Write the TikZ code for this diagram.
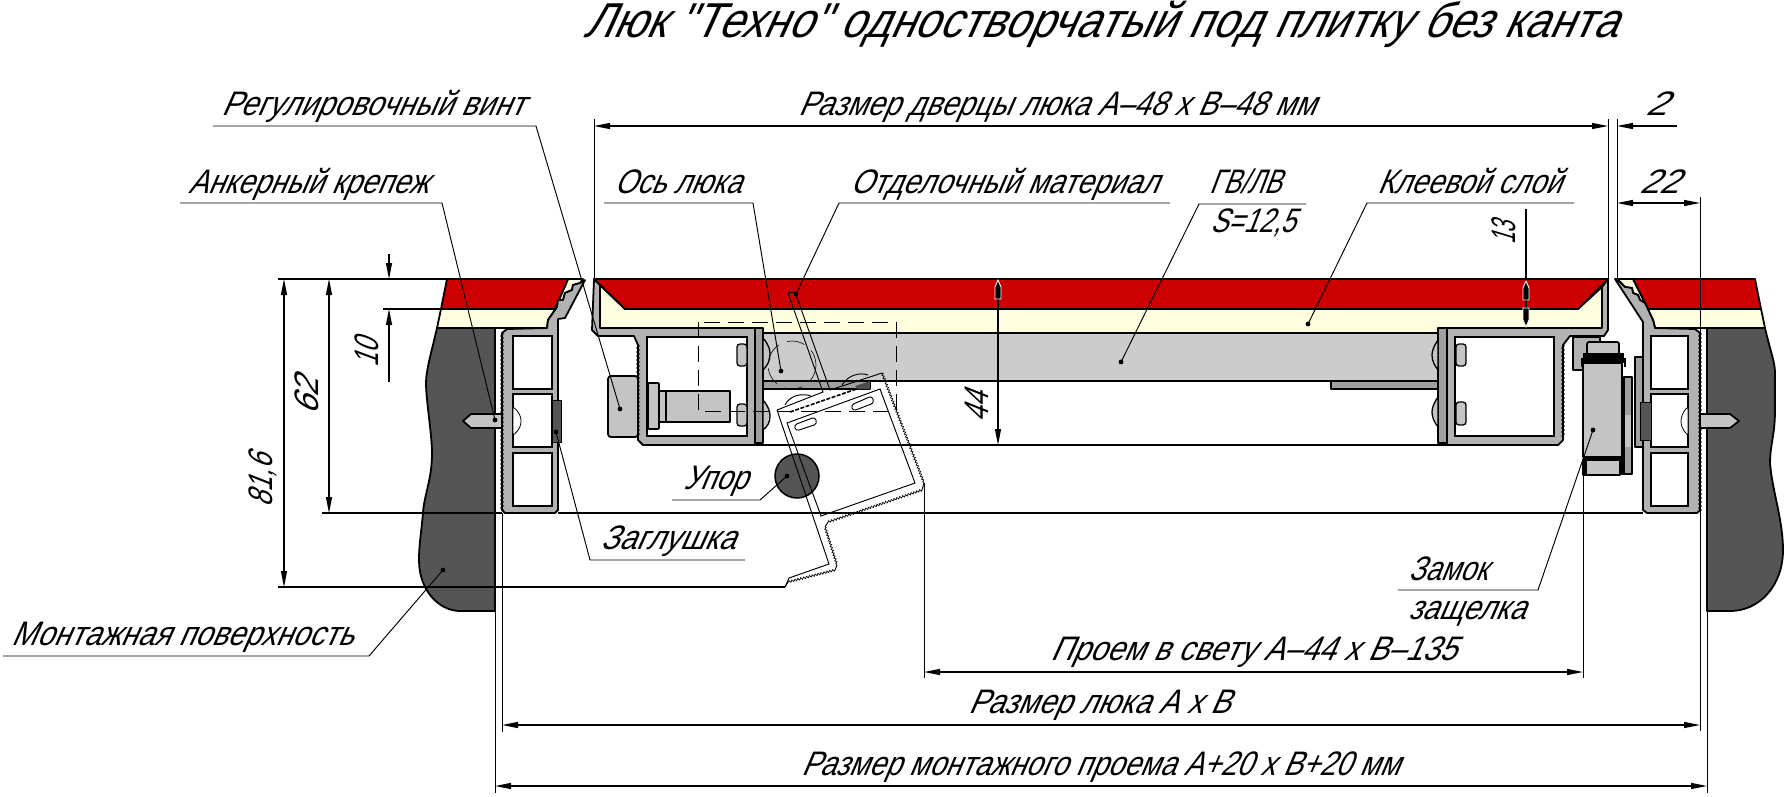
\documentclass[tikz,border=0pt]{standalone}
\usepackage{fontspec}
\usepackage{graphicx}
\usetikzlibrary{arrows.meta,decorations.pathmorphing}
\newfontfamily\gost[FakeSlant=0.5]{Liberation Sans}
\newsavebox\gb
\newcommand\fitx[2]{\sbox\gb{#2}\pgfmathsetmacro\gr{#1/\the\wd\gb}\scalebox{\gr}[1]{\usebox\gb}}
\definecolor{hatchred}{RGB}{204,0,0}
\definecolor{creamy}{RGB}{255,255,224}
\definecolor{wallgray}{RGB}{85,85,85}
\definecolor{profgray}{RGB}{178,178,178}
\definecolor{plategray}{RGB}{160,160,160}
\definecolor{panelgray}{RGB}{204,204,204}
\definecolor{lightgray2}{RGB}{196,196,196}
\tikzset{
  lab/.style={inner sep=0pt,outer sep=0pt,anchor=base west,font=\gost\fontsize{34}{34}\selectfont},
  rlab/.style={inner sep=0pt,outer sep=0pt,rotate=90,anchor=center,font=\gost\fontsize{34}{34}\selectfont},
  ttl/.style={inner sep=0pt,outer sep=0pt,anchor=base west,font=\gost\fontsize{49}{49}\selectfont},
  solid edge/.style={draw=black,line width=1.8pt,line join=round},
  thin line/.style={draw=black,line width=0.95pt},
  dimline/.style={draw=black,line width=1.2pt},
  heavy/.style={draw=black,line width=2pt},
  dim both/.style={dimline,{Triangle[length=16pt,width=6pt]}-{Triangle[length=16pt,width=6pt]}},
  dim end/.style={dimline,-{Triangle[length=16pt,width=6pt]}},
  leaderdot/.style={fill=black,draw=none},
  serr/.style={draw=black,line width=0.9pt,decorate,decoration={zigzag,segment length=4pt,amplitude=1.3pt}},
  fineserr/.style={draw=black,line width=0.7pt,decorate,decoration={zigzag,segment length=3pt,amplitude=1pt}},
  room/.style={fill=white,draw=black,line width=1.8pt},
  halo/.style={fill=black,draw=white,line width=0.9pt,line join=miter},
}
\begin{document}
\begin{tikzpicture}[x=1pt,y=-1pt]
\useasboundingbox (0,0) rectangle (1785,796);
\fill[white] (0,0) rectangle (1785,796);

% walls
\filldraw[fill=wallgray,solid edge] (494,328) -- (437,328) .. controls (432,350) and (426,370) .. (426,383)
  .. controls (426,400) and (432,435) .. (432,453) .. controls (432,480) and (424,495) .. (423,513)
  .. controls (421,535) and (419,545) .. (419,560) .. controls (419,590) and (438,610) .. (459,611) -- (495,611) -- (495,328) -- cycle;
\filldraw[fill=wallgray,solid edge] (1707,328) -- (1765,328) .. controls (1770,350) and (1775,362) .. (1775,373)
  -- (1775,410) .. controls (1775,435) and (1770,445) .. (1770,463) .. controls (1772,490) and (1783,520) .. (1783,550)
  .. controls (1783,585) and (1760,611) .. (1730,611) -- (1707,611) -- cycle;

% left frame finish
\filldraw[fill=creamy,solid edge] (441,309) -- (555,309) -- (568,279) -- (583,279) -- (580,283) -- (573,285) -- (572,290) -- (565,293) -- (563,300) -- (558,300) -- (557,307) -- (548,320) -- (547,328) -- (437,328) -- cycle;
\filldraw[fill=hatchred,solid edge] (447,279) -- (568,279) -- (555,309) -- (441,309) -- cycle;
% right frame finish
\filldraw[fill=creamy,solid edge] (1648,309) -- (1633,279) -- (1617,279) -- (1625,287) -- (1632,288) -- (1633,293) -- (1638,295) -- (1640,300) -- (1645,303) -- (1653,320) -- (1655,328) -- (1765,328) -- (1761,309) -- cycle;
\filldraw[fill=hatchred,solid edge] (1633,279) -- (1755,279) -- (1761,309) -- (1648,309) -- cycle;

% left frame profile
\filldraw[fill=profgray,solid edge] (585,280) -- (565,318) -- (558,319) -- (558,510) -- (555,513) -- (505,513) -- (502,510) -- (502,333) -- (507,329) -- (547,328) -- (548,320) -- (557,307) -- (558,300) -- (563,300) -- (565,293) -- (572,290) -- (573,285) -- (580,283) -- cycle;
\draw[serr] (502,333) -- (502,511);
\draw[room] (513,336) rectangle (552,389);
\draw[room] (513,394) rectangle (552,447);
\draw[room] (513,453) rectangle (552,506);
\filldraw[fill=white,draw=black,line width=0.8pt] (513,407) .. controls (520,412) and (521,418) .. (521,421) .. controls (521,425) and (520,430) .. (513,435) -- cycle;
\filldraw[fill=wallgray,draw=black,line width=1pt] (552,400) rectangle (561,442);
\filldraw[fill=lightgray2,solid edge] (463,421) -- (471,414) -- (502,414) -- (502,428) -- (471,428) -- cycle;

% right frame profile
\filldraw[fill=profgray,solid edge] (1615,279) -- (1643,322) -- (1643,510) -- (1647,513) -- (1697,513) -- (1700,510) -- (1700,333) -- (1695,329) -- (1655,328) -- (1653,320) -- (1645,303) -- (1640,300) -- (1638,295) -- (1633,293) -- (1632,288) -- (1625,287) -- (1617,279) -- cycle;
\draw[serr] (1700,333) -- (1700,511);
\draw[room] (1651,336) rectangle (1688,389);
\draw[room] (1651,394) rectangle (1688,447);
\draw[room] (1651,453) rectangle (1688,506);
\filldraw[fill=white,draw=black,line width=0.8pt] (1688,407) .. controls (1682,412) and (1681,418) .. (1681,421) .. controls (1681,425) and (1682,430) .. (1688,435) -- cycle;
\filldraw[fill=lightgray2,solid edge] (1700,414) -- (1730,414) -- (1739,421) -- (1730,428) -- (1700,428) -- cycle;

% door leaf
\filldraw[fill=creamy,solid edge] (600,285) -- (625,309) -- (1578,309) -- (1602,287) -- (1602,333) -- (600,333) -- cycle;
\filldraw[fill=hatchred,solid edge] (594,279) -- (1608,279) -- (1578,309) -- (625,309) -- cycle;
% panel
\filldraw[fill=panelgray,solid edge] (763,333) rectangle (1438,381);
% left door profile
\filldraw[fill=profgray,solid edge] (594,279) -- (600,285) -- (600,328) -- (755,328) -- (755,445) -- (643,445) -- (638,440) -- (638,345) -- (634,336) -- (598,336) -- (592,330) -- cycle;
\draw[room] (647,337) rectangle (747,436);
\draw[serr] (638,345) -- (638,438);
\filldraw[fill=plategray,solid edge] (755,328) rectangle (763,443);
\filldraw[fill=plategray,solid edge] (763,381) rectangle (870,389);
\filldraw[fill=lightgray2,draw=black,line width=1.3pt,rounded corners=3pt] (737,344) rectangle (747,366);
\filldraw[fill=lightgray2,draw=black,line width=1.3pt,rounded corners=3pt] (737,404) rectangle (747,426);
\filldraw[fill=lightgray2,draw=black,line width=1.3pt] (763,338) .. controls (769,345) and (770,350) .. (770,354) .. controls (770,360) and (768,365) .. (763,370) -- cycle;
\filldraw[fill=lightgray2,draw=black,line width=1.3pt] (763,400) .. controls (769,407) and (770,412) .. (770,416) .. controls (770,422) and (768,426) .. (763,430) -- cycle;
% adjusting screw
\filldraw[fill=lightgray2,solid edge,rounded corners=3pt] (608,376) rectangle (638,437);
\filldraw[fill=lightgray2,solid edge,rounded corners=1pt] (648,383) rectangle (659,429);
\filldraw[fill=lightgray2,solid edge] (659,391) rectangle (666,422);
\filldraw[fill=lightgray2,solid edge] (666,391) rectangle (730,422);

% right door profile
\filldraw[fill=profgray,solid edge] (1608,279) -- (1602,287) -- (1602,328) -- (1447,328) -- (1447,445) -- (1558,445) -- (1563,440) -- (1563,345) -- (1570,336) -- (1604,336) -- (1608,330) -- cycle;
\draw[room] (1455,337) rectangle (1554,436);
\draw[serr] (1563,345) -- (1563,438);
\filldraw[fill=plategray,solid edge] (1438,328) rectangle (1447,443);
\filldraw[fill=plategray,solid edge] (1331,381) rectangle (1438,389);
\filldraw[fill=lightgray2,draw=black,line width=1.3pt,rounded corners=3pt] (1456,344) rectangle (1466,366);
\filldraw[fill=lightgray2,draw=black,line width=1.3pt,rounded corners=3pt] (1456,402) rectangle (1466,425);
\filldraw[fill=lightgray2,draw=black,line width=1.3pt] (1438,340) .. controls (1433,347) and (1432,352) .. (1432,355) .. controls (1432,360) and (1434,365) .. (1438,370) -- cycle;
\filldraw[fill=lightgray2,draw=black,line width=1.3pt] (1438,397) .. controls (1433,404) and (1432,409) .. (1432,412) .. controls (1432,417) and (1434,422) .. (1438,427) -- cycle;

% latch
\filldraw[fill=profgray,solid edge] (1573,337) rectangle (1600,370);
\filldraw[fill=plategray,solid edge] (1624,377) rectangle (1632,474);
\fill[lightgray2] (1625,415) rectangle (1631,447);
\filldraw[fill=plategray,solid edge] (1635,357) rectangle (1643,447);
\filldraw[fill=wallgray,draw=black,line width=1pt] (1640,402) rectangle (1651,440);
\filldraw[fill=lightgray2,solid edge,rounded corners=2pt] (1587,342) rectangle (1619,356);
\fill[black] (1583,353) rectangle (1624,363);
\fill[black] (1624,358) rectangle (1626,367);
\fill[black] (1581,358) rectangle (1583,367);
\filldraw[fill=lightgray2,solid edge] (1583,363) rectangle (1622,457);
\filldraw[fill=lightgray2,solid edge] (1583,460) rectangle (1620,475);
\fill[black] (1583,456) rectangle (1624,460);
\fill[black] (1620,460) rectangle (1625,475);
\fill[black] (1583,460) rectangle (1587,475);

% long horizontal edges
\coordinate (doorL) at (753,445);
\coordinate (doorR) at (1447,445);
\draw[heavy] (doorL) -- (doorR);
\draw[heavy] (558,513) -- (1643,513);
\draw[dimline] (322,513) -- (502,513);
\draw[dimline] (278,587) -- (785,587);

% stop
\filldraw[fill=wallgray,draw=black,line width=1.5pt] (797,476) circle (22);

% hinge axis (dashed arcs)
\draw[draw=black,line width=0.6pt,dash pattern=on 18pt off 9pt] (792,365) circle (24);
% open door, thin
\draw[thin line] (788,293) -- (823,392) -- (777,410);
\draw[thin line] (795,292) -- (830,390) -- (882,373);
\draw[thin line] (788,293) -- (795,292);
\draw[thin line] (777,410) -- (829,564) -- (789,578) -- (785,587);
\draw[fineserr] (882,373) -- (924,483);
\draw[thin line] (924,483) -- (922,490);
\draw[fineserr] (922,490) -- (828,522);
\draw[thin line] (828,522) -- (825,527);
\draw[fineserr] (825,527) -- (837,565);
\draw[thin line] (837,565) -- (835,570);
\draw[fineserr] (835,570) -- (788,582);
\draw[thin line] (788,582) -- (785,587);
\draw[thin line] (787,423) -- (880,389) -- (915,483) -- (821,516) -- cycle;
\draw[black,line width=1.6pt,dash pattern=on 4pt off 1.5pt] (790,412) -- (868,385);
\draw[thin line,rounded corners=3pt] (794,425) -- (815,417) -- (817,424) -- (796,431) -- cycle;
\draw[thin line,rounded corners=3pt] (851,405) -- (872,396) -- (874,403) -- (853,411) -- cycle;
\draw[thin line] (785,405) .. controls (790,395) and (802,393) .. (811,396);
\draw[thin line] (842,385) .. controls (848,375) and (860,372) .. (868,375);
\fill[black!70] (855,386) -- (870,381) -- (870,389) -- (858,389) -- cycle;

% dashed detail frame
\draw[draw=black,line width=1pt,dash pattern=on 16pt off 8pt] (698,322) rectangle (896,411);

% dimension anchors
\coordinate (topY) at (278,279);
\coordinate (topEnd) at (447,279);
\coordinate (e1a) at (594,119); \coordinate (e1b) at (594,279);
\coordinate (e2a) at (1608,119); \coordinate (e2b) at (1608,279);
\coordinate (e3a) at (1617,119); \coordinate (e3b) at (1617,279);
\coordinate (e4a) at (1700,197); \coordinate (e4b) at (1700,731);
\coordinate (e5a) at (1707,611); \coordinate (e5b) at (1707,793);
\coordinate (e6a) at (495,611); \coordinate (e6b) at (495,793);
\coordinate (e7a) at (502,513); \coordinate (e7b) at (502,732);
\coordinate (e8a) at (924,483); \coordinate (e8b) at (924,678);
\coordinate (e9a) at (1583,475); \coordinate (e9b) at (1583,678);
\draw[dimline] (topY) -- (topEnd);
\draw[thin line] (e1a) -- (e1b);
\draw[thin line] (e2a) -- (e2b);
\draw[thin line] (e3a) -- (e3b);
\draw[thin line] (e4a) -- (e4b);
\draw[thin line] (e5a) -- (e5b);
\draw[thin line] (e6a) -- (e6b);
\draw[thin line] (e7a) -- (e7b);
\draw[thin line] (e8a) -- (e8b);
\draw[thin line] (e9a) -- (e9b);
\draw[dimline] (383,309) -- (441,309);

% horizontal dims
\coordinate (d1a) at (594,126); \coordinate (d1b) at (1608,126);
\draw[dim both] (d1a) -- (d1b);
\coordinate (d2a) at (1677,126); \coordinate (d2b) at (1617,126);
\draw[dim end] (d2a) -- (d2b);
\coordinate (d3a) at (1617,203); \coordinate (d3b) at (1700,203);
\draw[dim both] (d3a) -- (d3b);
\coordinate (d4a) at (502,725); \coordinate (d4b) at (1700,725);
\draw[dim both] (d4a) -- (d4b);
\coordinate (d5a) at (495,786); \coordinate (d5b) at (1707,786);
\draw[dim both] (d5a) -- (d5b);
\coordinate (d6a) at (924,672); \coordinate (d6b) at (1583,672);
\draw[dim both] (d6a) -- (d6b);

% vertical dims
\coordinate (v1a) at (284,279); \coordinate (v1b) at (284,587);
\draw[dim both] (v1a) -- (v1b);
\coordinate (v2a) at (329,279); \coordinate (v2b) at (329,513);
\draw[dim both] (v2a) -- (v2b);
\coordinate (v3a) at (389,254); \coordinate (v3b) at (389,279);
\draw[dim end] (v3a) -- (v3b);
\coordinate (v3c) at (389,382); \coordinate (v3d) at (389,309);
\draw[dim end] (v3c) -- (v3d);
\coordinate (v4a) at (998,281); \coordinate (v4b) at (998,445);
\draw[dimline,-{Triangle[length=16pt,width=6pt]}] (v4a) -- (v4b);
\filldraw[halo] (998,280) -- (1001,287) -- (1001,299) -- (995,299) -- (995,287) -- cycle;
\coordinate (v5a) at (1526,209); \coordinate (v5b) at (1526,328);
\draw[dimline] (v5a) -- (v5b);
\filldraw[halo] (1526,281) -- (1529,288) -- (1529,300) -- (1523,300) -- (1523,288) -- cycle;
\filldraw[halo] (1526,327) -- (1523,320) -- (1523,308) -- (1529,308) -- (1529,320) -- cycle;

% title and labels
\node[ttl] (title) at (583,37) {\fitx{1034}{Люк "Техно" одностворчатый под плитку без канта}};
\node[lab] (lRV) at (221,115) {\fitx{303}{Регулировочный винт}};
\node[lab] (lAK) at (188,193) {\fitx{240}{Анкерный крепеж}};
\node[lab] (lOL) at (614,193) {\fitx{127}{Ось люка}};
\node[lab] (lOM) at (850,193) {\fitx{308}{Отделочный материал}};
\node[lab] (lGV) at (1209,193) {\fitx{72}{ГВ/ЛВ}};
\node[lab] (lS) at (1210,232) {\fitx{85}{S=12,5}};
\node[lab] (lKS) at (1377,193) {\fitx{184}{Клеевой слой}};
\node[lab] (lDV) at (798,115) {\fitx{517}{Размер дверцы люка А–48 х В–48 мм}};
\node[lab] (l2) at (1645,115) {\fitx{21}{2}};
\node[lab] (l22) at (1639,193) {\fitx{39}{22}};
\node[lab] (lUP) at (683,489) {\fitx{64}{Упор}};
\node[lab] (lZG) at (600,549) {\fitx{135}{Заглушка}};
\node[lab] (lMP) at (11,645) {\fitx{342}{Монтажная поверхность}};
\node[lab] (lZM) at (1408,580) {\fitx{79}{Замок}};
\node[lab] (lZS) at (1408,619) {\fitx{117}{защелка}};
\node[lab] (lPS) at (1050,660) {\fitx{406}{Проем в свету А–44 х В–135}};
\node[lab] (lRL) at (968,713) {\fitx{262}{Размер люка А х В}};
\node[lab] (lRM) at (801,775) {\fitx{598}{Размер монтажного проема А+20 х В+20 мм}};
\node[rlab] (r816) at (263,481) {\fitx{52}{81,6}};
\node[rlab] (r62) at (307,397) {\fitx{37}{62}};
\node[rlab] (r10) at (367,353) {\fitx{28}{10}};
\node[rlab] (r44) at (977,407) {\fitx{30}{44}};
\node[rlab] (r13) at (1504,233) {\fitx{23}{13}};

% leaders
\coordinate (pRV1) at (213,126); \coordinate (pRV2) at (536,126); \coordinate (pRV3) at (620,409);
\draw[thin line] (pRV1) -- (pRV2) -- (pRV3);
\coordinate (pAK1) at (180,203); \coordinate (pAK2) at (442,203); \coordinate (pAK3) at (495,420);
\draw[thin line] (pAK1) -- (pAK2) -- (pAK3);
\coordinate (pOL1) at (604,203); \coordinate (pOL2) at (753,203); \coordinate (pOL3) at (781,371);
\draw[thin line] (pOL1) -- (pOL2) -- (pOL3);
\coordinate (pOM1) at (1170,203); \coordinate (pOM2) at (839,203); \coordinate (pOM3) at (796,294);
\draw[thin line] (pOM1) -- (pOM2) -- (pOM3);
\coordinate (pGV1) at (1306,204); \coordinate (pGV2) at (1199,204); \coordinate (pGV3) at (1121,362);
\draw[thin line] (pGV1) -- (pGV2) -- (pGV3);
\coordinate (pKS1) at (1574,203); \coordinate (pKS2) at (1367,203); \coordinate (pKS3) at (1308,324);
\draw[thin line] (pKS1) -- (pKS2) -- (pKS3);
\coordinate (pUP1) at (672,500); \coordinate (pUP2) at (760,500); \coordinate (pUP3) at (787,476);
\draw[thin line] (pUP1) -- (pUP2) -- (pUP3);
\coordinate (pZG1) at (745,560); \coordinate (pZG2) at (590,560); \coordinate (pZG3) at (556,432);
\draw[thin line] (pZG1) -- (pZG2) -- (pZG3);
\coordinate (pMP1) at (3,656); \coordinate (pMP2) at (369,656); \coordinate (pMP3) at (443,570);
\draw[thin line] (pMP1) -- (pMP2) -- (pMP3);
\coordinate (pZM1) at (1398,590); \coordinate (pZM2) at (1538,590); \coordinate (pZM3) at (1593,430);
\draw[thin line] (pZM1) -- (pZM2) -- (pZM3);
\foreach \p in {pRV3,pAK3,pOL3,pOM3,pGV3,pKS3,pUP3,pZG3,pMP3,pZM3}
  \fill[leaderdot] (\p) circle (2.4);
\end{tikzpicture}
\end{document}
